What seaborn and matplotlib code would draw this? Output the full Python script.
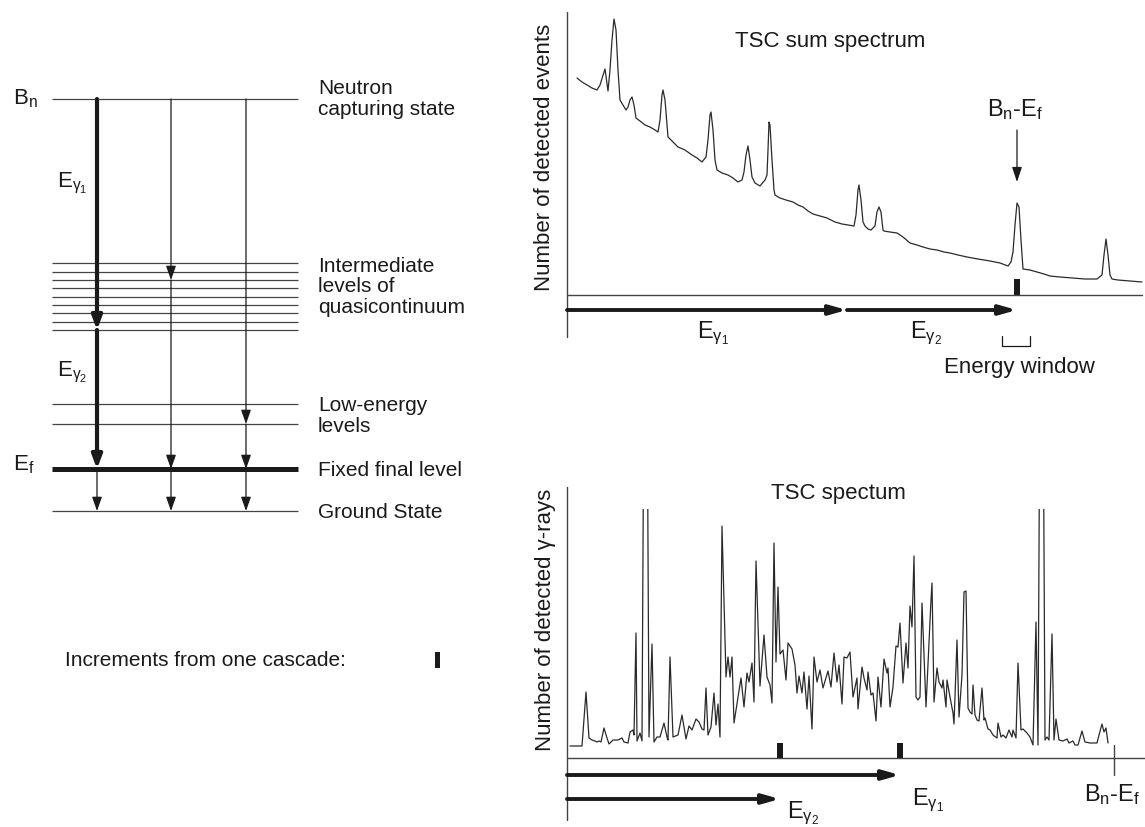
import matplotlib
matplotlib.use("Agg")
import matplotlib.pyplot as plt
import pandas as pd
import seaborn as sns

# ---------------- data ----------------
# level scheme (arbitrary energy units, ground state = 0)
level_bn = 412
levels_quasi = [248, 239, 231, 223, 214, 206, 198, 189, 181]
levels_low = [107, 87]
level_ef = 42
level_ground = 0
# three example cascades: Bn -> intermediate -> Ef -> ground
cascades = [[412, 181, 42, 0], [412, 231, 42, 0], [412, 87, 42, 0]]

# TSC sum spectrum (channel, counts)
sum_channel = [10, 15, 20, 25, 30, 33, 38, 41, 43, 45, 47, 49, 51, 53, 56, 59, 61, 63, 65, 67,
               69, 73, 78, 83, 88, 91, 93, 95, 96, 98, 100, 101, 106, 111, 118, 125, 130, 135,
               139, 141, 143, 144, 146, 148, 150, 155, 161, 166, 171, 175, 177, 179, 181, 183,
               185, 188, 193, 198, 200, 201, 202, 203, 205, 207, 208, 213, 219, 226, 231, 236,
               241, 246, 253, 260, 268, 275, 281, 287, 289, 291, 292, 294, 296, 298, 301, 304,
               308, 310, 312, 314, 316, 317, 323, 330, 336, 343, 350, 356, 363, 370, 377, 383,
               391, 400, 411, 423, 433, 441, 444, 446, 448, 450, 452, 454, 456, 463, 470, 477,
               483, 493, 506, 518, 530, 535, 537, 539, 541, 543, 545, 551, 563, 575]
sum_counts = [217, 213, 210, 207, 205, 210, 226, 204, 225, 255, 276, 265, 225, 195, 190, 185,
              188, 195, 198, 190, 177, 174, 170, 168, 165, 163, 175, 200, 205, 195, 170, 158,
              153, 148, 145, 140, 137, 133, 138, 155, 180, 183, 165, 135, 125, 122, 120, 117,
              113, 115, 123, 140, 149, 135, 118, 112, 109, 115, 120, 145, 173, 170, 135, 105,
              100, 97, 95, 93, 90, 88, 84, 81, 79, 77, 73, 71, 70, 69, 80, 105, 110, 95, 73,
              69, 66, 65, 69, 83, 88, 83, 65, 64, 63, 62, 58, 52, 50, 48, 46, 45, 43, 42, 40,
              38, 36, 34, 32, 29, 33, 43, 70, 92, 88, 55, 26, 25, 23, 21, 19, 18, 17, 16, 16,
              20, 40, 56, 40, 20, 16, 15, 14, 13]

# TSC spectrum of one cascade multiplicity (channel, counts); very large values are off scale
tsc_channel = [3, 15, 19, 22, 25, 28, 30, 32, 34, 37, 40, 42, 46, 51, 55, 57, 61, 63, 66, 67,
               69, 70, 73, 75, 77, 80, 82, 85, 87, 90, 93, 97, 100, 101, 103, 106, 111, 115,
               119, 122, 125, 129, 132, 135, 137, 139, 141, 144, 147, 149, 151, 153, 155, 159,
               161, 163, 165, 167, 171, 174, 177, 180, 182, 185, 187, 189, 193, 197, 200, 203,
               205, 207, 209, 211, 213, 216, 219, 221, 225, 228, 230, 232, 235, 237, 240, 242,
               245, 247, 250, 253, 256, 261, 264, 267, 270, 272, 275, 277, 280, 283, 286, 290,
               291, 295, 297, 300, 301, 304, 306, 309, 311, 314, 317, 320, 321, 323, 326, 329,
               331, 333, 336, 339, 341, 343, 345, 347, 349, 351, 353, 355, 359, 361, 364, 365,
               367, 370, 372, 375, 376, 379, 380, 383, 386, 387, 390, 392, 395, 397, 399, 401,
               403, 405, 406, 408, 410, 412, 415, 417, 418, 421, 423, 426, 430, 431, 434, 436,
               439, 442, 445, 446, 449, 451, 454, 456, 460, 463, 466, 469, 471, 473, 476, 478,
               480, 482, 485, 487, 489, 492, 496, 500, 502, 506, 508, 511, 515, 518, 523, 530,
               532, 535, 537, 539, 541]
tsc_counts = [12, 12, 66, 20, 18, 17, 16, 17, 16, 30, 20, 14, 18, 18, 20, 16, 15, 26, 28, 23,
              125, 17, 25, 17, 400, 400, 21, 114, 16, 21, 21, 35, 21, 18, 101, 21, 23, 43, 19,
              32, 28, 39, 36, 29, 28, 70, 23, 31, 65, 33, 54, 21, 232, 81, 101, 81, 101, 35, 61,
              80, 51, 85, 76, 95, 56, 197, 72, 123, 81, 73, 55, 215, 96, 171, 104, 108, 78, 115,
              109, 93, 65, 82, 65, 86, 49, 82, 29, 101, 76, 88, 70, 87, 71, 105, 76, 93, 54,
              101, 100, 106, 61, 80, 49, 91, 80, 68, 86, 63, 65, 37, 81, 51, 99, 85, 90, 51, 71,
              112, 111, 135, 75, 115, 90, 152, 131, 202, 61, 58, 61, 155, 51, 94, 158, 175, 56,
              90, 76, 70, 78, 51, 78, 61, 45, 34, 118, 41, 83, 166, 167, 50, 46, 44, 73, 43, 38,
              37, 70, 38, 40, 29, 28, 23, 20, 35, 21, 23, 20, 28, 21, 28, 20, 95, 28, 29, 25, 21,
              13, 136, 13, 400, 400, 18, 21, 18, 124, 18, 39, 18, 17, 19, 15, 17, 13, 13, 27, 16,
              15, 15, 23, 34, 26, 30, 15]

# energies of the cascade members (channels)
sum_eg1, sum_eg2 = 280, 170          # top panel: E_g1 + E_g2 = Bn - Ef
sum_bn_ef = 450
window_lo, window_hi = 435, 463
tsc_eg1, tsc_eg2 = 333, 213          # bottom panel
tsc_bn_ef = 547

# ---------------- style ----------------
sns.set_style("white")
plt.rcParams["font.family"] = ["Liberation Sans", "DejaVu Sans"]
plt.rcParams["mathtext.fontset"] = "custom"
plt.rcParams["mathtext.rm"] = "Liberation Sans"
plt.rcParams["mathtext.it"] = "Liberation Sans:italic"
plt.rcParams["mathtext.sf"] = "Liberation Sans"

INK = "#1a1a1a"
LINE = "#444444"
FS = 15          # left-hand labels
FR = 16          # right-hand labels
W, H = 1145, 827
EG1 = "E$_{\\mathregular{\u03b3}_{\\mathregular{1}}}$"
EG2 = "E$_{\\mathregular{\u03b3}_{\\mathregular{2}}}$"
BNEF = r"B$_\mathregular{n}$-E$_\mathregular{f}$"
fig = plt.figure(figsize=(W / 100, H / 100), dpi=100)
fig.patch.set_facecolor("white")


def rect(x0, ytop, x1, ybot):
    return [x0 / W, 1 - ybot / H, (x1 - x0) / W, (ybot - ytop) / H]


# ---------------- level scheme ----------------
ax_lv = fig.add_axes([0, 0, 1, 1])
ax_lv.set_xlim(0, W)
ax_lv.set_ylim(511 - H, 511)
ax_lv.set_axis_off()

x_l0, x_l1 = 52, 298
ax_lv.hlines([level_bn] + levels_quasi + levels_low + [level_ground], x_l0, x_l1,
             color=LINE, lw=0.9)
ax_lv.hlines([level_ef], x_l0, x_l1, color=INK, lw=3.6)

cascade_x = [97, 171, 246]
for i, (cx, casc) in enumerate(zip(cascade_x, cascades)):
    thick = i == 0
    for j in range(len(casc) - 1):
        big = thick and j < 2
        lw = 3.0 if big else 0.9
        hs = "-|>,head_length=0.8,head_width=0.3" if big else "-|>,head_length=0.85,head_width=0.3"
        ax_lv.annotate("", xy=(cx, casc[j + 1]), xytext=(cx, casc[j]),
                       arrowprops=dict(arrowstyle=hs, lw=lw, color=INK,
                                       shrinkA=0, shrinkB=0, mutation_scale=10),
                       annotation_clip=False)

ax_lv.text(13, 412, r"B$_\mathregular{n}$", fontsize=FS + 1, va="center", ha="left", color=INK)
ax_lv.text(13, 46, r"E$_\mathregular{f}$", fontsize=FS + 1, va="center", ha="left", color=INK)
ax_lv.text(57, 328, EG1, fontsize=FS + 1, va="center", ha="left", color=INK)
ax_lv.text(57, 139, EG2, fontsize=FS + 1, va="center", ha="left", color=INK)

xt = 318
ax_lv.text(xt, 412, "Neutron\ncapturing state", fontsize=FS, va="center", ha="left",
           linespacing=1.1, color=INK)
ax_lv.text(xt, 224, "Intermediate\nlevels of\nquasicontinuum", fontsize=FS, va="center",
           ha="left", linespacing=1.1, color=INK)
ax_lv.text(xt, 95, "Low-energy\nlevels", fontsize=FS, va="center", ha="left",
           linespacing=1.1, color=INK)
ax_lv.text(xt, 41, "Fixed final level", fontsize=FS, va="center", ha="left", color=INK)
ax_lv.text(xt, -2, "Ground State", fontsize=FS, va="center", ha="left", color=INK)

ax_lv.text(65, -149, "Increments from one cascade:", fontsize=FS, va="center", ha="left", color=INK)
ax_lv.bar([437], [16], bottom=-157, width=5, color=INK, edgecolor="none", linewidth=0)

# ---------------- TSC sum spectrum ----------------
ax_t = fig.add_axes(rect(567, 12, 1145, 295))
ax_t.set_xlim(0, 578)
ax_t.set_ylim(0, 283)
ax_t.set_axis_off()
df_sum = pd.DataFrame({"channel": sum_channel, "counts": sum_counts})
sns.lineplot(data=df_sum, x="channel", y="counts", ax=ax_t, color="#2a2a2a", lw=0.9)
ax_t.bar([sum_bn_ef], [16], width=6, color=INK, edgecolor="none", linewidth=0, align="center")
ax_t.plot([0, 0], [-42, 283], color=LINE, lw=1.0, clip_on=False)
ax_t.plot([0, 575], [0, 0], color=LINE, lw=1.0, clip_on=False)


def harrow(ax, x0, x1, y):
    ax.annotate("", xy=(x1, y), xytext=(x0, y),
                arrowprops=dict(arrowstyle="-|>,head_length=0.5,head_width=0.14", lw=2.8,
                                color=INK, shrinkA=0, shrinkB=0, mutation_scale=20),
                annotation_clip=False)


harrow(ax_t, 0, sum_eg1, -15)
harrow(ax_t, sum_eg1, sum_eg1 + sum_eg2, -15)
ax_t.text(146, -38, EG1, fontsize=FR + 1, ha="center", va="center", color=INK)
ax_t.text(359, -38, EG2, fontsize=FR + 1, ha="center", va="center", color=INK)
ax_t.plot([window_lo, window_lo, window_hi, window_hi], [-41, -51, -51, -41], color=INK,
          lw=0.9, clip_on=False)
ax_t.text(452, -73, "Energy window", fontsize=FR, ha="center", va="center", color=INK)
ax_t.text(263, 253, "TSC sum spectrum", fontsize=FR, ha="center", va="center", color=INK)
ax_t.text(448, 185, BNEF, fontsize=FR + 1, ha="center", va="center", color=INK)
ax_t.annotate("", xy=(sum_bn_ef, 113), xytext=(sum_bn_ef, 165),
              arrowprops=dict(arrowstyle="-|>,head_length=0.9,head_width=0.3", lw=0.9,
                              color=INK, shrinkA=0, shrinkB=0, mutation_scale=10),
              annotation_clip=False)
fig.text(545 / W, 1 - 157 / H, "Number of detected events", rotation=90, fontsize=FR,
         ha="center", va="center", color=INK)

# ---------------- TSC spectrum ----------------
ax_b = fig.add_axes(rect(567, 509, 1145, 758))
ax_b.set_xlim(0, 578)
ax_b.set_ylim(0, 249)
ax_b.set_axis_off()
df_tsc = pd.DataFrame({"channel": tsc_channel, "counts": tsc_counts})
sns.lineplot(data=df_tsc, x="channel", y="counts", ax=ax_b, color="#2a2a2a", lw=0.9)
ax_b.bar([tsc_eg2, tsc_eg1], [15, 15], width=6, color=INK, edgecolor="none", linewidth=0,
         align="center")
ax_b.plot([0, 0], [-62, 271], color=LINE, lw=1.0, clip_on=False)
ax_b.plot([0, 578], [0, 0], color=LINE, lw=1.0, clip_on=False)
ax_b.plot([tsc_bn_ef, tsc_bn_ef], [13, -17], color=LINE, lw=1.0, clip_on=False)
harrow(ax_b, 0, tsc_eg1, -17)
harrow(ax_b, 0, tsc_eg2, -41)
ax_b.text(tsc_eg1 + 12, -42, EG1, fontsize=FR + 1, ha="left", va="center", color=INK)
ax_b.text(tsc_eg2 + 7, -55, EG2, fontsize=FR + 1, ha="left", va="center", color=INK)
ax_b.text(545, -37, BNEF, fontsize=FR + 1, ha="center", va="center", color=INK)
ax_b.text(271, 265, "TSC spectum", fontsize=FR, ha="center", va="center", color=INK)
fig.text(545 / W, 1 - 620 / H, "Number of detected \u03b3-rays", rotation=90, fontsize=FR,
         ha="center", va="center", color=INK)

fig.savefig("out.png", dpi=100, facecolor="white")
